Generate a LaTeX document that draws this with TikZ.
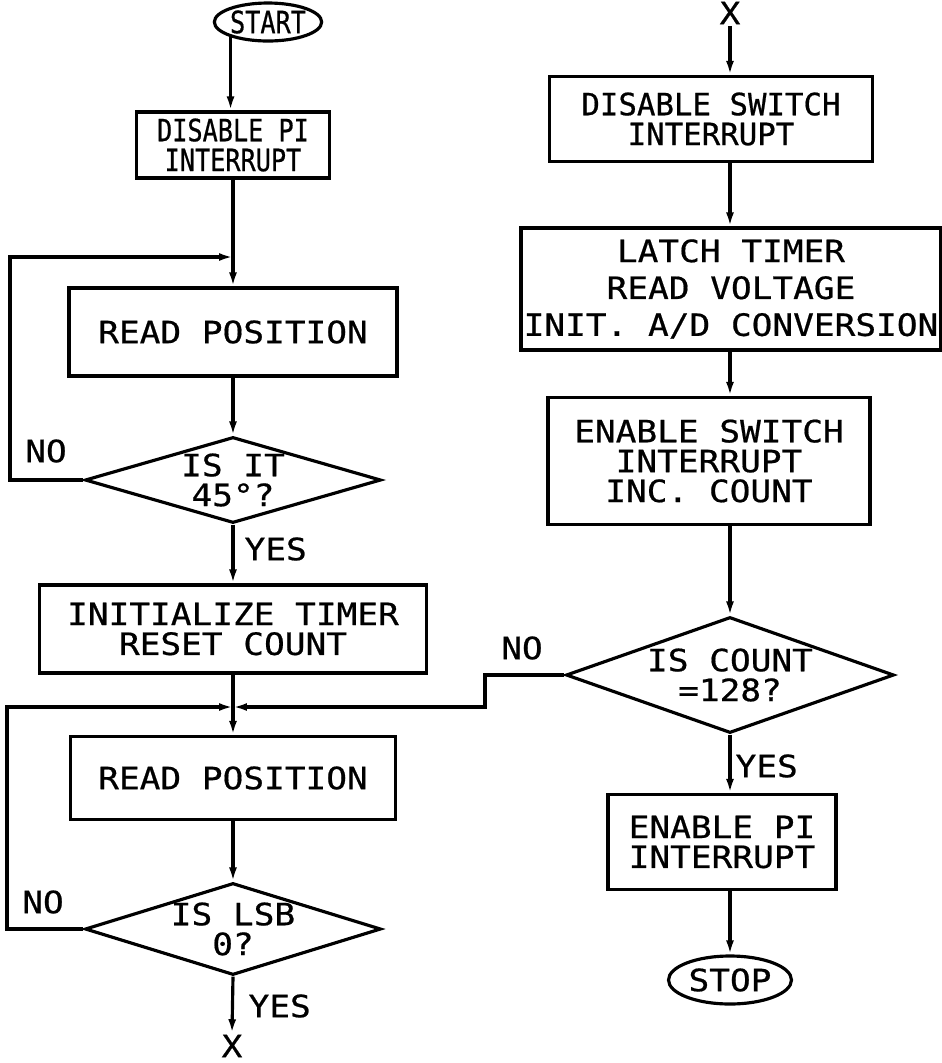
\documentclass[tikz,border=0pt]{standalone}
\usepackage{fontspec}
\newfontfamily\plotfont[FakeStretch=1.12,FakeBold=0.6]{DejaVu Sans Mono}
\newfontfamily\plotmid[FakeStretch=1.0,FakeBold=0.6]{DejaVu Sans Mono}
\newfontfamily\plotnarrow[FakeStretch=0.82,FakeBold=0.6]{DejaVu Sans Mono}
\usetikzlibrary{shapes.geometric,arrows.meta,positioning,calc}

\begin{document}
\begin{tikzpicture}[
  x=0.02cm, y=-0.02cm, line width=1.8pt,
  sz/.style 2 args={minimum width=#1*0.02cm, minimum height=#2*0.02cm},
  blk/.style={draw, inner sep=0pt, align=center,
    font=\plotfont\fontsize{17.5}{17}\selectfont},
  ask/.style={blk, diamond},
  term/.style={blk, ellipse},
  lbl/.style={inner sep=0pt, font=\plotfont\fontsize{17.5}{17}\selectfont},
  go/.style={-{Latex[length=0.28cm,width=0.16cm]}},
]
\useasboundingbox (0,0) rectangle (942,1063);
% left column: find 45 degrees, then count LSB
\node[term,sz={84}{38},font=\plotnarrow\fontsize{17.5}{17}\selectfont]
  (start) at (268,22) {START};
\node[blk,sz={193}{66},font=\plotnarrow\fontsize{17.5}{17}\selectfont]
  (dispi) at (233,145) {DISABLE PI\\INTERRUPT};
\node[blk,sz={328}{88}] (pos1) at (233,332) {READ POSITION};
\node[ask,sz={296}{86},aspect=3.4] (ang) at (233,480) {IS IT\\45°?};
\node[blk,sz={387}{88}] (init) at (233,629) {INITIALIZE TIMER\\RESET COUNT};
\node[blk,sz={325}{83}] (pos2) at (233,778) {READ POSITION};
\node[ask,sz={296}{92},aspect=3.2] (lsb) at (233,929) {IS LSB\\0?};
\node[lbl] (xout) at (232,1046) {X};
\node[lbl] (no1) at (46,451) {NO};
\node[lbl,anchor=west] (yes1) at (243,549) {YES};
\node[lbl] (no2) at (43,902) {NO};
\node[lbl,anchor=west] (yes2) at (247,1006) {YES};
% right column: sample 128 readings
\node[lbl] (xin) at (730,13) {X};
\node[blk,sz={323}{85},font=\plotmid\fontsize{17.5}{17}\selectfont]
  (dissw) at (711,119) {DISABLE SWITCH\\INTERRUPT};
\node[blk,sz={420}{122}] (latch) at (731,289)
  {LATCH TIMER\\[4pt]READ VOLTAGE\\[4pt]INIT. A/D CONVERSION};
\node[blk,sz={322}{127}] (ensw) at (709,461) {ENABLE SWITCH\\INTERRUPT\\INC. COUNT};
\node[ask,sz={328}{116},aspect=2.8] (cnt) at (730,675) {IS COUNT\\=128?};
\node[blk,sz={228}{95}] (enpi) at (722,842) {ENABLE PI\\INTERRUPT};
\node[term,sz={123}{48}] (stop) at (730,980) {STOP};
\node[lbl] (no3) at (522,648) {NO};
\node[lbl,anchor=west] (yes3) at (734,766) {YES};
% junctions and loop corners
\coordinate (j1) at (233,257);
\coordinate (j2) at (233,707);
\coordinate (lp1) at (10,257);
\coordinate (lp2) at (7,707);
\coordinate (dog) at (485,707);
% left flow
\draw[go] (start.202) -- (start.202 |- dispi.north);
\draw (dispi.south) -- (j1);
\draw[go] (j1) -- (pos1.north);
\draw[go] (pos1.south) -- (ang.north);
\draw[go] (ang.west) -| (lp1) -- (j1);
\draw[go] (ang.south) -- (init.north);
\draw (init.south) -- (j2);
\draw[go] (j2) -- (pos2.north);
\draw[go] (pos2.south) -- (lsb.north);
\draw[go] (lsb.west) -| (lp2) -- (j2);
\draw[go] (lsb.south) -- (xout.north);
% right flow
\draw[go] (xin.south) -- (xin |- dissw.north);
\draw[go] (xin |- dissw.south) -- (xin |- latch.north);
\draw[go] (xin |- latch.south) -- (xin |- ensw.north);
\draw[go] (xin |- ensw.south) -- (cnt.north);
\draw[go] (cnt.west) -| (dog) -- (j2);
\draw[go] (cnt.south) -- (cnt.south |- enpi.north);
\draw[go] (cnt.south |- enpi.south) -- (stop.north);
\end{tikzpicture}
\end{document}
